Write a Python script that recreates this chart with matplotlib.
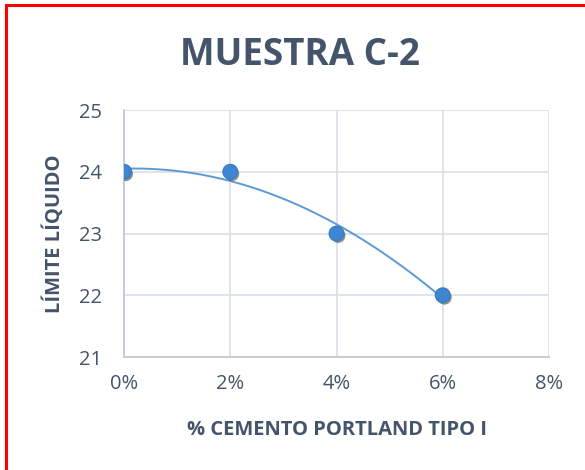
import numpy as np
import matplotlib.pyplot as plt
from matplotlib.patches import Rectangle
import matplotlib.patheffects as pe

cemento = [0, 2, 4, 6]          # % cemento portland
limite = [24, 24, 23, 22]        # limite liquido
xticks = [0, 2, 4, 6, 8]
xlabels = ["0%", "2%", "4%", "6%", "8%"]
yticks = [21, 22, 23, 24, 25]

TXT = "#44546a"
GRID = "#d9dee7"
FONT = "Open Sans"

fig = plt.figure(figsize=(5.85, 4.70), dpi=100)
ax = fig.add_axes([0.212, 0.2404, 0.7265, 0.5255])

# red frame (only top/left visible in the crop)
fig.patches.append(Rectangle((5.5 / 585, -0.1), 1.2, 1 - 4.5 / 470 + 0.1,
                             transform=fig.transFigure, fill=False,
                             edgecolor="#ff0000", linewidth=2.2, zorder=10))

# polynomial trendline (order 2)
coef = np.polyfit(cemento, limite, 2)
xs = np.linspace(min(cemento), max(cemento), 200)
ax.plot(xs, np.polyval(coef, xs), color="#5b9bd5", lw=1.4, zorder=3)

ax.plot(cemento, limite, ls="none", marker="o", ms=10.5,
        color="#3f86d2", mec="#3a7cc4", zorder=4,
        path_effects=[pe.SimplePatchShadow(offset=(1.2, -1.5), shadow_rgbFace="#444444", alpha=0.6),
                      pe.Normal()])

ax.set_xlim(0, 8)
ax.set_ylim(21, 25)
ax.set_xticks(xticks)
ax.set_xticklabels(xlabels)
ax.set_yticks(yticks)
ax.grid(True, color=GRID, lw=1.2)
ax.set_axisbelow(True)
for s in ["top", "right"]:
    ax.spines[s].set_visible(False)
ax.spines["left"].set_color("#c5ccd8")
ax.spines["bottom"].set_color("#c5ccd8")
ax.spines["left"].set_linewidth(1.4)
ax.spines["bottom"].set_linewidth(1.4)
ax.tick_params(length=0, labelsize=14.5, colors=TXT)
for lab in ax.get_xticklabels() + ax.get_yticklabels():
    lab.set_fontfamily(FONT)
ax.tick_params(axis="y", pad=16)
ax.tick_params(axis="x", pad=12)

ax.set_xlabel("% CEMENTO PORTLAND TIPO I", fontsize=14.5, fontweight="bold",
              color=TXT, family=FONT, labelpad=19)
ax.set_ylabel("LÍMITE LÍQUIDO", fontsize=14.5, fontweight="bold",
              color=TXT, family=FONT, labelpad=10)

fig.text(0.513, 1 - 55 / 470, "MUESTRA C-2", ha="center", va="center",
         fontsize=26.5, fontweight="bold", color=TXT, family=FONT)

fig.savefig("out.png", dpi=100)
